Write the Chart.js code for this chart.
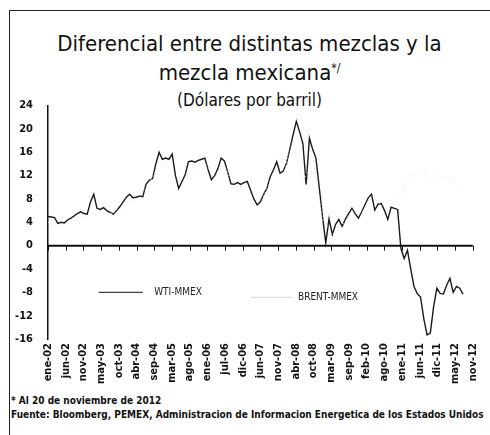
<!DOCTYPE html>
<html>
<head>
<meta charset="utf-8">
<script src="https://cdn.jsdelivr.net/npm/chart.js@4"></script>
<style>
  body { margin: 0; background: #fff; }
  #frame { position: relative; width: 490px; height: 435px; overflow: hidden; }
  #box { position: absolute; left: 9px; top: 10px; width: 500px; height: 440px;
         border-left: 1px solid #222; border-top: 1px solid #222; }
  .title { position: absolute; left: 9px; width: 481px; text-align: center; color: #111;
           font-family: "Liberation Sans Narrow", "DejaVu Sans Condensed", "Open Sans", sans-serif; }
  #t1 { top: 29px; font-size: 22px; line-height: 29px; }
  #t2 { top: 89px; font-size: 17px; line-height: 22px; }
  #t1 sup { font-size: 12px; vertical-align: 8px; line-height: 0; }
  #chartWrap { position: absolute; left: 0; top: 84px; width: 490px; height: 310px; }
  .note { position: absolute; left: 11px; color: #111; font-weight: bold; font-size: 10px;
          font-family: "Liberation Sans Narrow", "DejaVu Sans Condensed", "Open Sans", sans-serif; }
</style>
</head>
<body>
<div id="frame">
  <div id="box"></div>
  <div class="title" id="t1">Diferencial entre distintas mezclas y la<br>mezcla mexicana<sup>*/</sup></div>
  <div class="title" id="t2">(Dólares por barril)</div>
  <div id="chartWrap"><canvas id="chart"></canvas></div>
  <div class="note" style="top:395px">* Al 20 de noviembre de 2012</div>
  <div class="note" style="top:409px">Fuente: Bloomberg, PEMEX, Administracion de Informacion Energetica de los Estados Unidos</div>
</div>
<script>
// x axis labels (evenly spaced, ene-02 .. nov-12)
const tickLabels = ['ene-02','jun-02','nov-02','may-03','oct-03','abr-04','sep-04','mar-05','ago-05',
  'ene-06','jul-06','dic-06','jun-07','nov-07','abr-08','oct-08','mar-09','sep-09','feb-10',
  'ago-10','ene-11','jun-11','dic-11','may-12','nov-12']
const lastMonth = 130  // months from ene-02 to nov-12

// WTI-MMEX, one value per month starting ene-02
const wti = [
  5.0, 4.9, 4.8, 3.8, 4.0, 3.9, 4.4, 4.7, 5.1, 5.5,
  5.8, 5.5, 5.4, 7.5, 8.8, 6.4, 6.2, 6.5, 6.0, 5.7,
  5.4, 6.0, 6.7, 7.5, 8.3, 8.8, 8.2, 8.3, 8.5, 8.4,
  10.5, 11.2, 11.5, 14.0, 16.0, 14.8, 15.0, 14.8, 15.7, 12.0,
  9.8, 11.0, 12.2, 14.4, 14.5, 14.3, 14.6, 14.8, 15.0, 13.0,
  11.3, 12.0, 13.2, 15.0, 14.5, 12.6, 10.6, 10.5, 10.8, 10.5,
  10.8, 11.0, 9.5, 8.0, 7.0, 7.5, 8.8, 9.8, 11.8, 13.0,
  14.4, 12.4, 12.8, 14.1, 16.5, 19.0, 21.3, 19.5, 17.5, 10.5,
  18.4, 16.5, 15.0, 10.0, 5.0, 0.5, 4.6, 1.9, 3.6, 4.5,
  3.3, 4.5, 5.5, 6.4, 5.5, 4.7, 5.8, 7.0, 8.2, 8.8,
  6.1, 7.1, 7.2, 6.0, 4.5, 6.6, 6.4, 6.2, -0.5, -2.2,
  -0.8, -4.0, -7.0, -8.2, -8.8, -12.5, -15.3, -15.0, -10.5, -7.3,
  -8.2, -8.3, -6.8, -5.6, -8.0, -7.0, -7.3, -8.3
]

// BRENT-MMEX (faint in the original), every third month
const brentMonths = [0,3,6,9,12,15,18,21,24,27,30,33,36,39,42,45,48,51,54,57,60,63,66,69,72,
  75,78,81,84,87,90,93,96,99,102,105,108,111,114,117,120,123,126]
const brent = [4.0, 3.2, 3.8, 4.8, 5.0, 6.0, 5.6, 5.5, 7.5, 7.8, 9.8, 12.8, 14.2, 11.5, 11.5,
  13.8, 14.2, 11.5, 13.8, 10.0, 10.2, 7.6, 8.5, 12.5, 12.2, 18.0, 10.5, 15.5, 4.5, 2.0,
  3.4, 6.0, 5.6, 8.5, 7.0, 7.0, 8.5, 12.0, 12.5, 11.8, 12.0, 11.2, 10.5]

const yTicks = [24, 20, 16, 12, 8, 4, 0, -4, -8, -12, -16]

const font = "'Liberation Sans Narrow', 'DejaVu Sans Condensed', 'Open Sans', sans-serif"

// zero line with tick marks + legend text inside the plot
const extras = {
  id: 'extras',
  afterDatasetsDraw(chart) {
    const {ctx, chartArea, scales: {x, y}} = chart
    const y0 = y.getPixelForValue(0)
    ctx.save()
    ctx.strokeStyle = '#111'
    ctx.lineWidth = 2
    ctx.beginPath()
    ctx.moveTo(chartArea.left, y0)
    ctx.lineTo(chartArea.right, y0)
    ctx.stroke()
    ctx.lineWidth = 1
    x.ticks.forEach(t => {
      const px = Math.round(x.getPixelForValue(t.value)) + 0.5
      ctx.beginPath()
      ctx.moveTo(px, y0)
      ctx.lineTo(px, y0 + 5)
      ctx.stroke()
    })

    // legend
    const ly = y.getPixelForValue(-8)
    ctx.strokeStyle = '#444'
    ctx.lineWidth = 1.2
    ctx.beginPath()
    ctx.moveTo(x.getPixelForValue(15.5), ly)
    ctx.lineTo(x.getPixelForValue(29), ly)
    ctx.stroke()
    ctx.fillStyle = '#222'
    ctx.font = '10px ' + font
    ctx.textBaseline = 'middle'
    ctx.fillText('WTI-MMEX', x.getPixelForValue(32.5), ly)
    ctx.strokeStyle = '#e2e2e2'
    ctx.beginPath()
    ctx.moveTo(x.getPixelForValue(62), ly + 5)
    ctx.lineTo(x.getPixelForValue(75), ly + 5)
    ctx.stroke()
    ctx.fillText('BRENT-MMEX', x.getPixelForValue(76.5), ly + 5)
    ctx.restore()
  }
}

new Chart(document.getElementById('chart'), {
  type: 'line',
  data: {
    datasets: [{
      label: 'BRENT-MMEX',
      data: brentMonths.map((m, i) => ({x: m, y: brent[i]})),
      borderColor: '#e0e0e0',
      borderWidth: 1,
      borderDash: [1, 3],
      pointRadius: 0,
      tension: 0
    }, {
      label: 'WTI-MMEX',
      data: wti.map((v, i) => ({x: i, y: v})),
      borderColor: '#1a1a1a',
      borderWidth: 1.4,
      pointRadius: 0,
      tension: 0
    }]
  },
  options: {
    responsive: true,
    maintainAspectRatio: false,
    animation: false,
    layout: {padding: {left: 8, right: 7, top: 7, bottom: 0}},
    plugins: {legend: {display: false}, tooltip: {enabled: false}},
    scales: {
      x: {
        type: 'linear',
        min: 0,
        max: lastMonth,
        afterBuildTicks: s => { s.ticks = tickLabels.map((l, i) => ({value: i * lastMonth / 24})) },
        afterFit: s => { s.height = 55 },
        grid: {display: false, drawTicks: false},
        border: {display: false},
        ticks: {
          autoSkip: false,
          minRotation: 90,
          maxRotation: 90,
          padding: 4,
          color: '#111',
          font: {family: font, size: 11, weight: 'bold'},
          callback: (v, i) => tickLabels[i]
        }
      },
      y: {
        min: -16,
        max: 24,
        afterBuildTicks: s => { s.ticks = yTicks.map(v => ({value: v})) },
        afterFit: s => { s.width = 40 },
        grid: {display: false, drawTicks: false},
        border: {display: true, color: '#111', width: 1.5},
        ticks: {
          padding: 15,
          color: '#111',
          font: {family: font, size: 11, weight: 'bold'}
        }
      }
    }
  },
  plugins: [extras]
})
</script>
</body>
</html>
